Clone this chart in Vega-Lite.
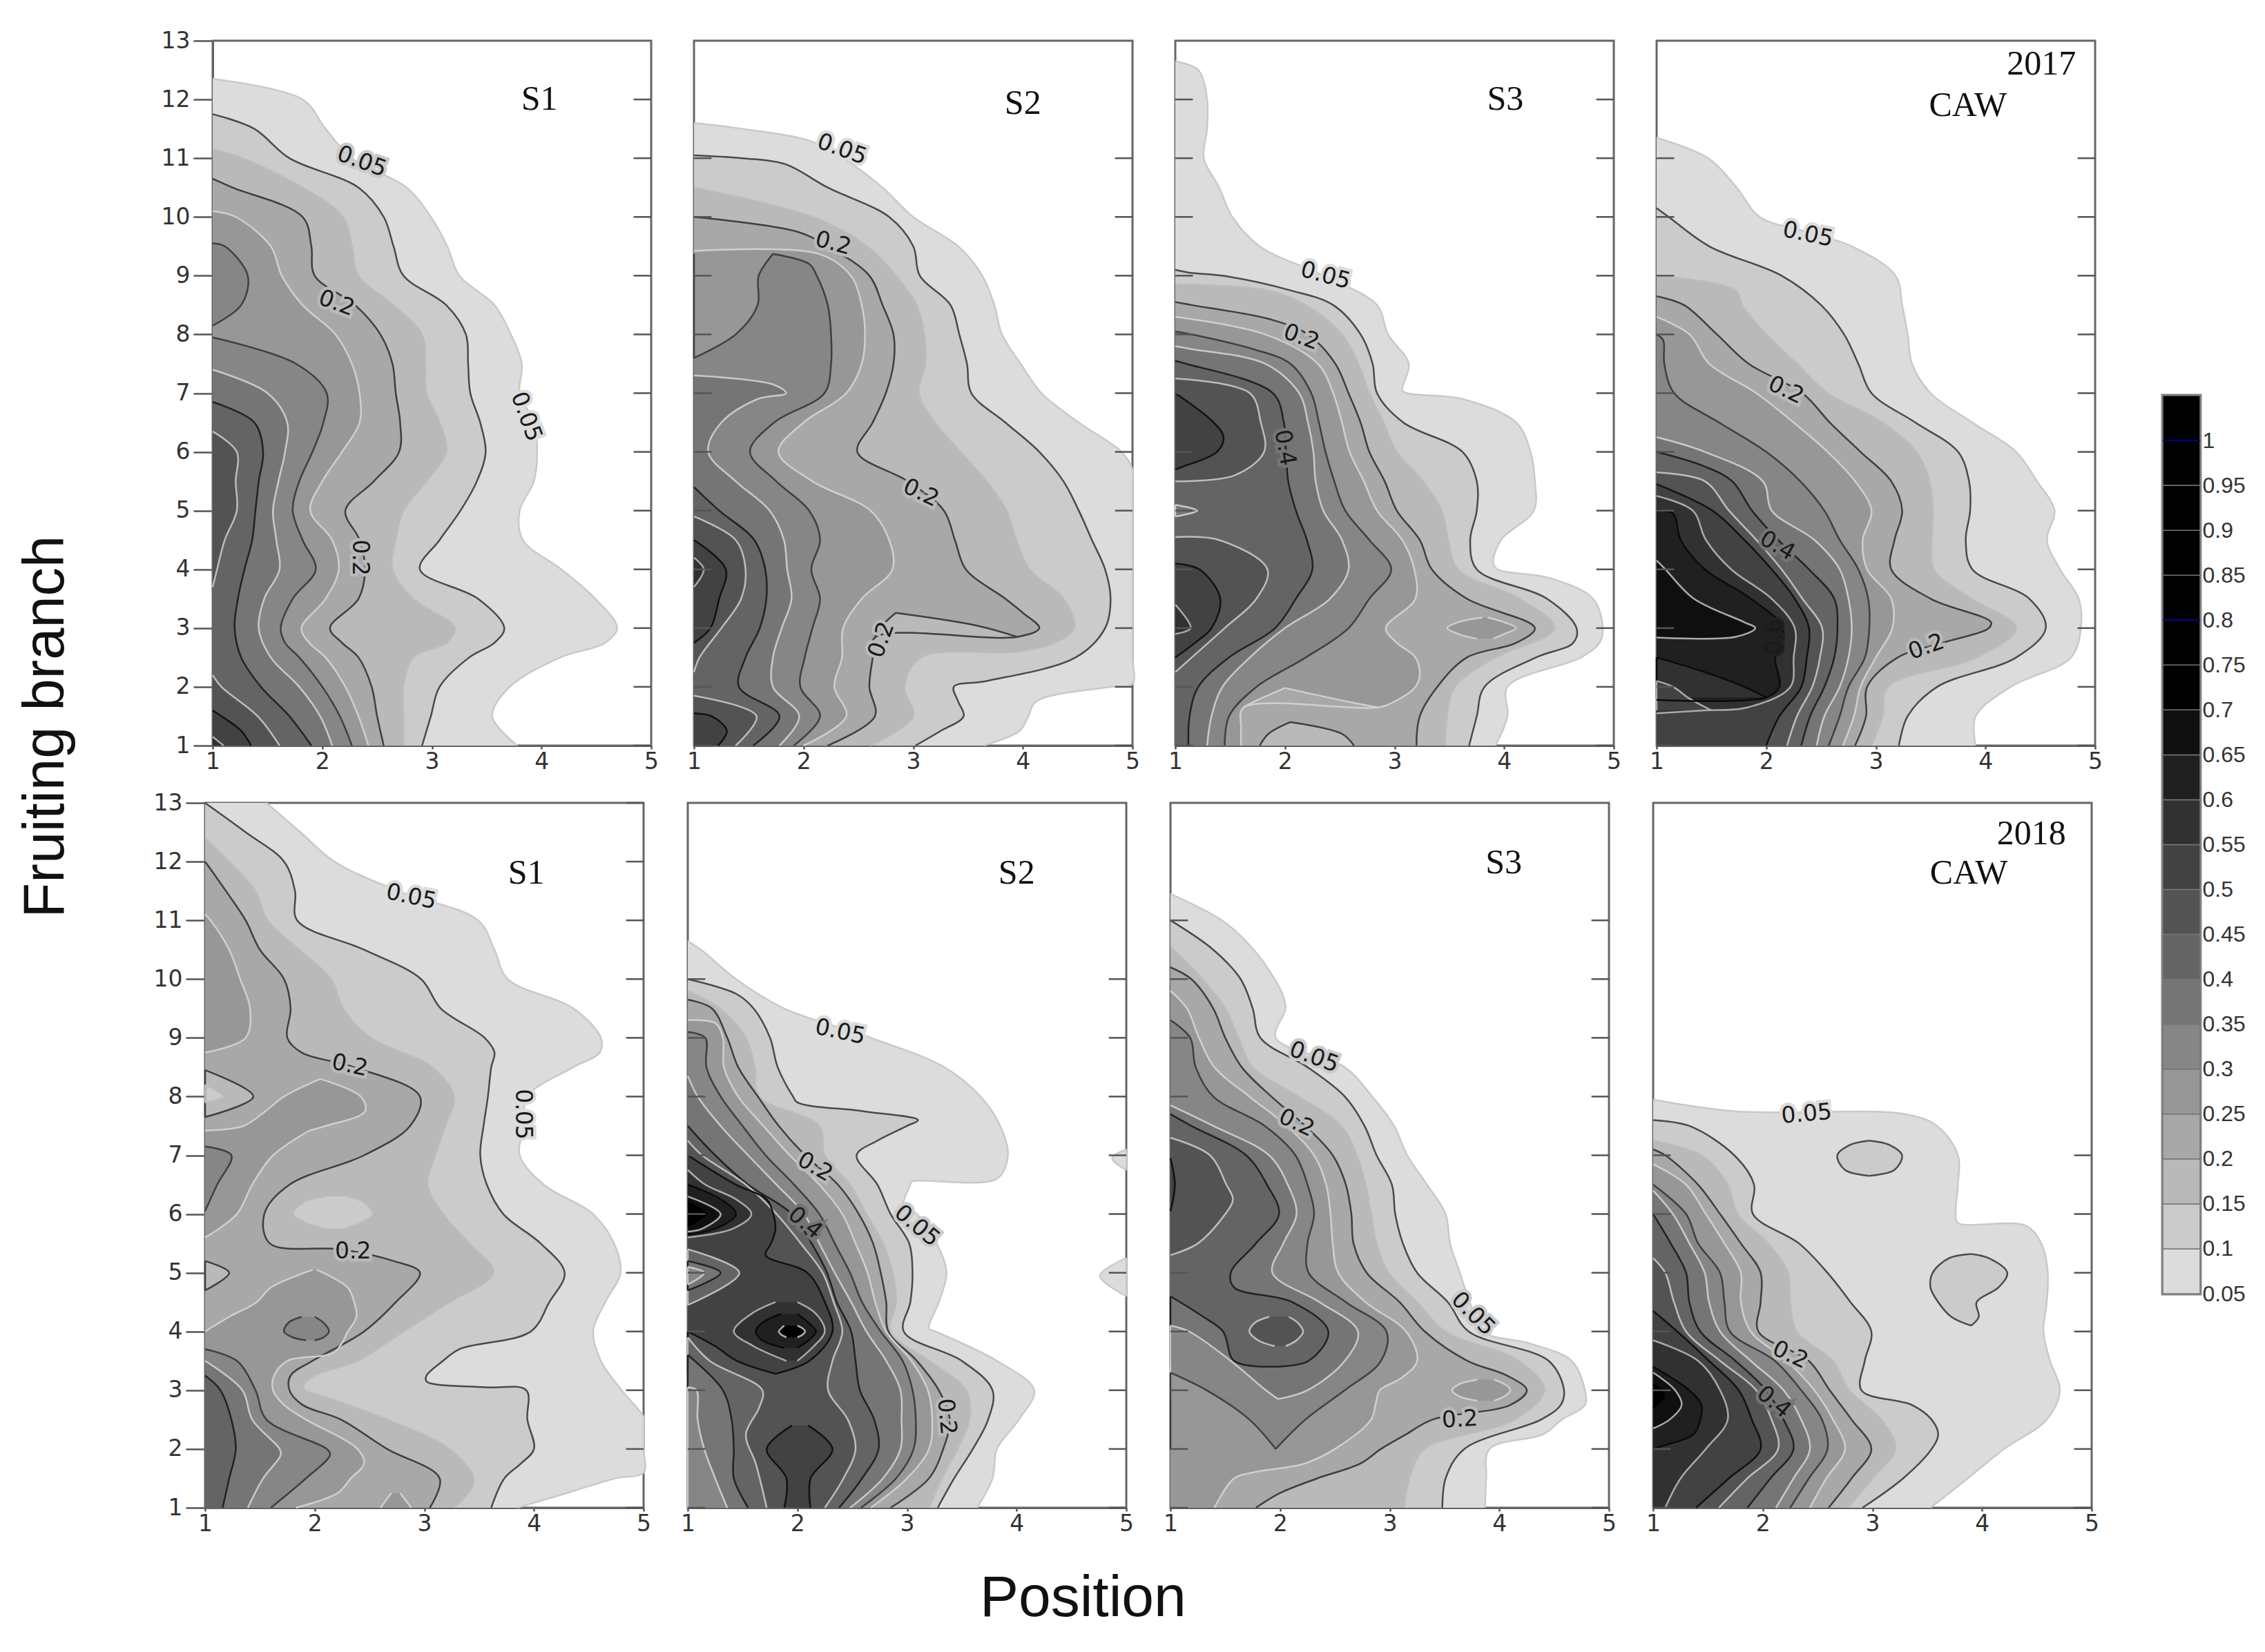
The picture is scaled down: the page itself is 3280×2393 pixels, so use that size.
{"$schema":"https://vega.github.io/schema/vega-lite/v6.json","padding":{"left":0,"top":43,"right":0,"bottom":0},"background":"white","config":{"mark":{"invalid":"filter"},"view":{"stroke":"#666","strokeWidth":3},"area":{"orient":"horizontal","interpolate":"catmull-rom","clip":true,"invalid":"filter"},"line":{"interpolate":"catmull-rom","clip":true,"strokeWidth":2.5,"invalid":"filter"},"axis":{"grid":false,"labelFont":"DejaVu Sans","labelFontSize":33,"labelColor":"#333","domainColor":"#555","domainWidth":3,"tickColor":"#555","tickWidth":2.5,"title":null,"labelFlush":false}},
"datasets":{"m":[
{"p":"a","y":13},{"p":"a","y":12.35,"a":1},{"p":"a","y":12,"a":1.82},{"p":"a","y":11.75,"b":1},{"p":"a","y":11.5,"a":2.03,"b":1.38},{"p":"a","y":11.15,"c":1},{"p":"a","y":11,"a":2.27,"b":1.7,"c":1.27},{"p":"a","y":10.65,"d":1},{"p":"a","y":10.5,"a":2.77,"b":2.33,"c":1.82,"d":1.18},{"p":"a","y":10.1,"e":1},{"p":"a","y":10,"a":2.99,"b":2.56,"c":2.19,"d":1.82,"e":1.21},{"p":"a","y":9.55,"f":1},{"p":"a","y":9.5,"a":3.14,"b":2.65,"c":2.27,"d":1.9,"e":1.53,"f":1.11},{"p":"a","y":9,"a":3.25,"b":2.74,"c":2.33,"d":1.93,"e":1.63,"f":1.32},{"p":"a","y":8.5,"a":3.57,"b":3.13,"c":2.65,"d":2.3,"e":1.82,"f":1.26},{"p":"a","y":8.15,"f":1},{"p":"a","y":8,"a":3.72,"b":3.31,"c":2.91,"d":2.53,"e":2.12},{"p":"a","y":7.95,"f2":1},{"p":"a","y":7.5,"a":3.82,"b":3.33,"c":2.94,"d":2.64,"e":2.27,"f2":1.76},{"p":"a","y":7.4,"g":1},{"p":"a","y":7,"a":3.8,"b":3.35,"c":2.95,"d":2.67,"e":2.34,"f2":2.04,"g":1.5},{"p":"a","y":6.85,"h":1},{"p":"a","y":6.5,"a":3.93,"b":3.44,"c":3.07,"d":2.71,"e":2.34,"f2":2.01,"g":1.68,"h":1.38},{"p":"a","y":6.35,"i":1},{"p":"a","y":6,"a":3.96,"b":3.49,"c":3.13,"d":2.7,"e":2.18,"f2":1.91,"g":1.66,"h":1.46,"i":1.22},{"p":"a","y":5.5,"a":3.93,"b":3.41,"c":2.95,"d":2.47,"e":2,"f2":1.79,"g":1.6,"h":1.42,"i":1.21},{"p":"a","y":5,"a":3.8,"b":3.26,"c":2.74,"d":2.21,"e":1.89,"f2":1.73,"g":1.55,"h":1.39,"i":1.22},{"p":"a","y":4.5,"a":3.83,"b":3.07,"c":2.67,"d":2.34,"e":2.09,"f2":1.82,"g":1.58,"h":1.36,"i":1.11},{"p":"a","y":4,"a":4.18,"b":2.89,"c":2.64,"d":2.39,"e":2.15,"f2":1.94,"g":1.61,"h":1.29,"i":1.04},{"p":"a","y":3.7,"i":1},{"p":"a","y":3.5,"a":4.49,"b":3.42,"c":2.83,"d":2.33,"e":2.03,"f2":1.73,"g":1.47,"h":1.23},{"p":"a","y":3,"a":4.69,"b":3.66,"c":3.21,"d":2.07,"e":1.81,"f2":1.62,"g":1.42,"h":1.2},{"p":"a","y":2.75,"a":4.58,"b":3.57,"c":3.13,"d":2.18,"e":1.88,"f2":1.66},{"p":"a","y":2.5,"a":4.17,"b":3.34,"c":2.83,"d":2.33,"e":2.03,"f2":1.79,"g":1.53,"h":1.26},{"p":"a","y":2.2,"i2":1},{"p":"a","y":2,"a":3.71,"b":3.07,"c":2.74,"d":2.45,"e":2.21,"f2":2,"g":1.79,"h":1.44,"i2":1.08},{"p":"a","y":1.6,"j":1},{"p":"a","y":1.5,"a":3.55,"b":2.99,"c":2.74,"d":2.5,"e":2.33,"f2":2.16,"g":1.98,"h":1.7,"i2":1.41,"j":1.08},{"p":"a","y":1.25,"j":1.26},{"p":"a","y":1.15,"k":1},{"p":"a","y":1,"a":3.78,"b":2.91,"c":2.74,"d":2.56,"e":2.42,"f2":2.27,"g":2.09,"h":1.9,"i2":1.61,"j":1.35,"k":1.1},
{"p":"b","y":13},{"p":"b","y":12},{"p":"b","y":11.6,"a":1},{"p":"b","y":11.5,"a":1.44},{"p":"b","y":11.3,"a":2.05},{"p":"b","y":11.05,"b":1},{"p":"b","y":11,"a":2.36,"b":1.44},{"p":"b","y":10.9,"b":1.83},{"p":"b","y":10.5,"a":2.72,"b":2.22,"c":1},{"p":"b","y":10,"a":3,"b":2.78,"c":2.08,"d":1},{"p":"b","y":9.75,"d":1.94},{"p":"b","y":9.5,"a":3.41,"b":3,"c":2.58,"d":2.22},{"p":"b","y":9.42,"e":1},{"p":"b","y":9.37,"e":2.14,"f":1.72},{"p":"b","y":9.2,"f":2.05},{"p":"b","y":9,"a":3.63,"b":3.06,"c":2.84,"d":2.6,"e":2.43,"f":2.12},{"p":"b","y":8.5,"a":3.74,"b":3.34,"c":3.03,"d":2.72,"e":2.53,"f":2.22},{"p":"b","y":8,"a":3.81,"b":3.42,"c":3.1,"d":2.82,"e":2.56,"f":2.25},{"p":"b","y":7.5,"a":3.98,"b":3.49,"c":3.11,"d":2.82,"e":2.53,"f":2.25},{"p":"b","y":7.3,"g":1},{"p":"b","y":7.15,"g":1.72},{"p":"b","y":7,"a":4.17,"b":3.53,"c":3.05,"d":2.75,"e":2.39,"f":2.19,"g":1.84},{"p":"b","y":6.9,"g":1.58},{"p":"b","y":6.5,"a":4.51,"b":3.84,"c":3.2,"d":2.63,"e":2,"f":1.73,"g":1.25},{"p":"b","y":6,"a":4.9,"b":4.15,"c":3.43,"d":2.49,"e":1.77,"f":1.51,"g":1.13},{"p":"b","y":5.7,"a":5},{"p":"b","y":5.5,"a":5,"b":4.37,"c":3.67,"d":2.95,"e":2.08,"f":1.75,"g":1.38},{"p":"b","y":5.4,"h":1},{"p":"b","y":5,"a":5,"b":4.51,"c":3.85,"d":3.28,"e":2.61,"f":2.05,"g":1.69,"h":1.23},{"p":"b","y":4.9,"i":1},{"p":"b","y":4.5,"a":5,"b":4.63,"c":3.94,"d":3.38,"e":2.78,"f":2.15,"g":1.82,"h":1.55,"i":1.38,"j":1},{"p":"b","y":4.2,"k":1},{"p":"b","y":4,"a":5,"b":4.75,"c":4.06,"d":3.48,"e":2.81,"f":2.07,"g":1.85,"h":1.65,"i":1.47,"j":1.29,"k":1.09},{"p":"b","y":3.7,"k":1},{"p":"b","y":3.5,"a":5,"b":4.8,"c":4.37,"d":3.84,"e":2.53,"f":2.15,"g":1.89,"h":1.66,"i":1.43,"j":1.23},{"p":"b","y":3.26,"d":4},{"p":"b","y":3,"a":5,"b":4.75,"c":4.47,"d":4.15,"e":2.36,"f":2.08,"g":1.8,"h":1.6,"i":1.25,"j":1.15},{"p":"b","y":2.85,"d":3.95},{"p":"b","y":2.84,"d":2.65},{"p":"b","y":2.75,"c":4.29,"j":1},{"p":"b","y":2.6,"c":3.95},{"p":"b","y":2.5,"a":5,"b":4.48,"c":3.07,"d":2.63,"e":2.35,"f":2.01,"g":1.72,"h":1.47,"i":1.05},{"p":"b","y":2.25,"i":1},{"p":"b","y":2.1,"b":3.67},{"p":"b","y":2.05,"a":5},{"p":"b","y":2,"a":4.8,"b":3.37,"c":2.92,"d":2.6,"e":2.28,"f":1.97,"g":1.72,"h":1.41},{"p":"b","y":1.85,"i2":1},{"p":"b","y":1.75,"a":4.12,"b":3.41},{"p":"b","y":1.55,"j2":1},{"p":"b","y":1.5,"a":4.05,"b":3.46,"c":3,"d":2.65,"e":2.39,"f":2.15,"g":1.96,"h":1.78,"i2":1.57,"j2":1.16},{"p":"b","y":1.25,"a":3.97,"b":3.25,"j2":1.3},{"p":"b","y":1,"a":3.64,"b":3.02,"c":2.61,"d":2.22,"e":2,"f":1.91,"g":1.78,"h":1.54,"i2":1.38,"j2":1.22},
{"p":"c","y":13},{"p":"c","y":12.65,"a":1},{"p":"c","y":12.5,"a":1.21},{"p":"c","y":12,"a":1.29},{"p":"c","y":11.5,"a":1.29},{"p":"c","y":11,"a":1.26},{"p":"c","y":10.5,"a":1.4},{"p":"c","y":10,"a":1.52},{"p":"c","y":9.5,"a":1.77},{"p":"c","y":9.1,"b":1},{"p":"c","y":9.05,"b":1.13},{"p":"c","y":9,"a":2.35,"b":1.43},{"p":"c","y":8.85,"c":1},{"p":"c","y":8.75,"b":2.05,"c":1.85},{"p":"c","y":8.55,"d":1},{"p":"c","y":8.5,"a":2.84,"b":2.44,"c":2.19,"d":1.15},{"p":"c","y":8.3,"e":1},{"p":"c","y":8.25,"d":1.88},{"p":"c","y":8.05,"f":1},{"p":"c","y":8,"a":2.94,"b":2.69,"c":2.52,"d":2.21,"e":1.82,"f":1.15},{"p":"c","y":7.8,"g":1},{"p":"c","y":7.75,"f":1.71,"g":1.15},{"p":"c","y":7.55,"h":1},{"p":"c","y":7.5,"a":3.13,"b":2.8,"c":2.67,"d":2.46,"e":2.3,"f":2.05,"g":1.82,"h":1.1},{"p":"c","y":7.25,"i":1},{"p":"c","y":7.05,"a":3.07},{"p":"c","y":7,"a":3.11,"b":2.84,"c":2.77,"d":2.58,"e":2.44,"f":2.24,"g":2.13,"h":1.89,"i":1.68,"j":1},{"p":"c","y":6.9,"a":3.62},{"p":"c","y":6.5,"a":4.11,"b":3.08,"c":2.9,"d":2.69,"e":2.52,"f":2.31,"g":2.21,"h":1.99,"i":1.78,"j":1.35},{"p":"c","y":6.25,"j":1.44},{"p":"c","y":6,"a":4.24,"b":3.62,"c":3.02,"d":2.77,"e":2.59,"f":2.37,"g":2.26,"h":2.01,"i":1.81,"j":1.38},{"p":"c","y":5.75,"j":1.07},{"p":"c","y":5.7,"j":1},{"p":"c","y":5.6,"i":1.54},{"p":"c","y":5.5,"a":4.28,"b":3.75,"c":3.26,"d":2.91,"e":2.72,"f":2.45,"g":2.28,"h":2.03,"i":1},{"p":"c","y":5,"a":4.27,"b":3.75,"c":3.43,"d":3.02,"e":2.84,"f":2.55,"g":2.35,"h":2.1},{"p":"c","y":4.55,"i2":1},{"p":"c","y":4.5,"a":3.97,"b":3.69,"c":3.49,"d":3.23,"e":3.07,"f":2.77,"g":2.52,"h":2.2,"i2":1.4},{"p":"c","y":4.1,"a":3.9,"j2":1},{"p":"c","y":4,"a":3.94,"b":3.75,"c":3.58,"d":3.34,"e":3.18,"f":2.97,"g":2.58,"h":2.25,"i2":1.84,"j2":1.22},{"p":"c","y":3.85,"a":4.42},{"p":"c","y":3.5,"a":4.81,"b":4.39,"c":4.14,"d":3.66,"e":3.19,"f":2.77,"g":2.41,"h":2.1,"i2":1.74,"j2":1.41},{"p":"c","y":3.4,"k":1},{"p":"c","y":3,"a":4.9,"b":4.66,"c":4.46,"d":4.28,"e":2.92,"f":2.58,"g":2,"h":1.91,"i2":1.45,"j2":1.33,"k":1.14},{"p":"c","y":2.9,"k":1},{"p":"c","y":2.75,"a":4.87,"b":4.63,"d":4.11,"e":3.02,"j2":1.18},{"p":"c","y":2.5,"a":4.7,"b":4.29,"c":3.92,"d":3.66,"e":3.19,"f":2.19,"g":1.68,"h":1.49,"i2":1.15,"j2":1},{"p":"c","y":2.25,"i2":1},{"p":"c","y":2.2,"e":3.23},{"p":"c","y":2,"a":4.03,"b":3.82,"c":3.55,"d":3.39,"e":3.19,"f":1.74,"g":1.43,"h":1.21},{"p":"c","y":1.75,"e":3},{"p":"c","y":1.65,"e":2.85},{"p":"c","y":1.64,"e":1.62},{"p":"c","y":1.5,"a":4.03,"b":3.75,"c":3.48,"d":3.23,"f":1.49,"g":1.33,"h":1.13},{"p":"c","y":1.3,"e":1.6},{"p":"c","y":1,"a":3.92,"b":3.68,"c":3.46,"d":3.2,"e":1.6,"f":1.45,"g":1.29,"h":1.12},
{"p":"d","y":13},{"p":"d","y":12},{"p":"d","y":11.35,"a":1},{"p":"d","y":11,"a":1.47},{"p":"d","y":10.5,"a":1.73},{"p":"d","y":10.15,"b":1},{"p":"d","y":10,"a":1.94,"b":1.11},{"p":"d","y":9.75,"a":2.36},{"p":"d","y":9.5,"a":2.78,"b":1.48},{"p":"d","y":9,"a":3.18,"b":2.14,"c":1},{"p":"d","y":8.75,"c":1.72},{"p":"d","y":8.65,"d":1},{"p":"d","y":8.5,"a":3.24,"b":2.5,"c":1.78,"d":1.25},{"p":"d","y":8.3,"e":1},{"p":"d","y":8,"a":3.29,"b":2.71,"c":2,"d":1.55,"e":1.3,"f":1},{"p":"d","y":7.9,"f":1.06},{"p":"d","y":7.5,"a":3.33,"b":2.84,"c":2.28,"d":1.84,"e":1.48,"f":1.07},{"p":"d","y":7,"a":3.5,"b":2.96,"c":2.56,"d":2.33,"e":1.91,"f":1.16},{"p":"d","y":6.5,"a":3.88,"b":3.36,"c":3.06,"d":2.58,"e":2.25,"f":1.57},{"p":"d","y":6.25,"g":1},{"p":"d","y":6,"a":4.28,"b":3.75,"c":3.37,"d":2.86,"e":2.56,"f":2,"g":1.44,"h":1},{"p":"d","y":5.75,"h":1.44},{"p":"d","y":5.65,"i":1},{"p":"d","y":5.5,"a":4.47,"b":3.85,"c":3.49,"d":3.14,"e":2.81,"f":2.31,"g":1.97,"h":1.69,"i":1.44},{"p":"d","y":5.45,"j":1},{"p":"d","y":5.25,"k":1},{"p":"d","y":5,"a":4.63,"b":3.86,"c":3.52,"d":3.24,"e":2.96,"f":2.53,"g":2.05,"h":1.87,"i":1.66,"j":1.51,"k":1.33,"l":1},{"p":"d","y":4.95,"l":1.15},{"p":"d","y":4.5,"a":4.56,"b":3.82,"c":3.51,"d":3.17,"e":2.88,"f":2.67,"g":2.44,"h":2.11,"i":1.91,"j":1.8,"k":1.45,"l":1.22},{"p":"d","y":4.15,"m":1},{"p":"d","y":4,"a":4.68,"b":3.88,"c":3.53,"d":3.14,"e":2.92,"f":2.84,"g":2.67,"h":2.39,"i":2.14,"j":2.05,"k":1.68,"l":1.44,"m":1.08},{"p":"d","y":3.5,"a":4.85,"b":4.4,"c":3.87,"d":3.5,"e":3.14,"f":2.93,"g":2.75,"h":2.62,"i":2.33,"j":2.26,"k":2.05,"l":1.86,"m":1.34},{"p":"d","y":3.1,"d":4.05,"m":1.8},{"p":"d","y":3,"a":4.87,"b":4.55,"c":4.28,"d":4.03,"e":3.15,"f":2.94,"g":2.78,"h":2.65,"i":2.51,"j":2.39,"k":2.26,"l":2.15,"m":1.9},{"p":"d","y":2.85,"m":1.72},{"p":"d","y":2.84,"m":1},{"p":"d","y":2.75,"d":3.61},{"p":"d","y":2.5,"a":4.78,"b":4.28,"c":3.92,"d":3.2,"e":3,"f":2.9,"g":2.75,"h":2.62,"i":2.49,"j":2.37,"k":2.25,"l":2.08},{"p":"d","y":2,"a":4.23,"b":3.56,"c":3.11,"d":2.92,"e":2.86,"f":2.75,"g":2.67,"h":2.53,"i":2.42,"j":2.32,"k":2.22,"l":2.12},{"p":"d","y":1.82,"l":2},{"p":"d","y":1.78,"l":1},{"p":"d","y":1.65,"k":1.83},{"p":"d","y":1.6,"k":1.44},{"p":"d","y":1.55,"k":1},{"p":"d","y":1.5,"a":3.91,"b":3.29,"c":3.06,"d":2.91,"e":2.8,"f":2.67,"g":2.53,"h":2.4,"i":2.28,"j":2.12},{"p":"d","y":1,"a":3.91,"b":3.21,"c":2.96,"d":2.81,"e":2.7,"f":2.57,"g":2.46,"h":2.32,"i":2.19,"j":2},
{"p":"e","y":13,"a":1.56,"b":1},{"p":"e","y":12.5,"a":1.87,"b":1.37},{"p":"e","y":12.4,"c":1},{"p":"e","y":12,"a":2.18,"b":1.72,"c":1.22,"d":1},{"p":"e","y":11.5,"a":2.76,"b":1.82,"c":1.46,"d":1.19},{"p":"e","y":11.1,"e":1},{"p":"e","y":11,"a":3.49,"b":1.84,"c":1.57,"d":1.37,"e":1.05},{"p":"e","y":10.5,"a":3.64,"b":2.45,"c":1.86,"d":1.5,"e":1.22},{"p":"e","y":10,"a":3.76,"b":2.97,"c":2.15,"d":1.72,"e":1.32},{"p":"e","y":9.5,"a":4.36,"b":3.15,"c":2.26,"d":1.78,"e":1.41},{"p":"e","y":9,"a":4.61,"b":3.55,"c":2.51,"d":1.75,"e":1.37},{"p":"e","y":8.75,"a":4.6,"b":3.64,"d":1.88,"e":1},{"p":"e","y":8.5,"a":4.36,"b":3.61,"c":3.07,"d":2.36},{"p":"e","y":8,"a":3.94,"b":3.58,"c":3.27,"d":2.96},{"p":"e","y":7.5,"a":3.91,"b":3.54,"c":3.19,"d":2.87},{"p":"e","y":7.42,"e2":1.95},{"p":"e","y":7.15,"f":1},{"p":"e","y":7,"a":3.87,"b":3.51,"c":3.1,"d":2.45,"e2":1.62,"f":1.24},{"p":"e","y":6.5,"a":4.09,"b":3.57,"c":3.03,"d":1.77,"e2":1.43,"f":1.11},{"p":"e","y":6.05,"f":1},{"p":"e","y":6,"a":4.54,"b":3.72,"c":3.17,"d":1.54,"e2":1.29},{"p":"e","y":5.6,"e2":1},{"p":"e","y":5.5,"a":4.73,"b":4.06,"c":3.41,"d":1.59},{"p":"e","y":5.4,"d":2.24},{"p":"e","y":5.2,"d":2.72},{"p":"e","y":5,"a":4.79,"b":4.28,"c":3.63,"d":2.96},{"p":"e","y":4.5,"a":4.65,"b":4.14,"c":3.23,"d":2.74},{"p":"e","y":4,"a":4.54,"b":3.97,"c":2.81,"d":2.45,"e3":2.3},{"p":"e","y":3.7,"b":3.32,"f2":1},{"p":"e","y":3.65,"e3":2.18},{"p":"e","y":3.5,"a":4.61,"b":3.17,"c":2.39,"d":1.98,"e3":1.75,"f2":1.29,"g":1},{"p":"e","y":3.25,"b":3.02,"c":2,"d":1.78,"e3":1.63,"h":1},{"p":"e","y":3.15,"b":3.02},{"p":"e","y":3.1,"c":1.9},{"p":"e","y":3.05,"b":3.55},{"p":"e","y":3,"a":4.8,"b":3.93,"c":1.91,"d":1.77,"e3":1.62,"f2":1.46,"g":1.34,"h":1.14},{"p":"e","y":2.9,"c":2.07},{"p":"e","y":2.75,"d":1.89,"e3":1.72},{"p":"e","y":2.55,"a":5},{"p":"e","y":2.5,"a":5,"b":3.94,"c":2.66,"d":2.24,"e3":1.92,"f2":1.56,"g":1.43,"h":1.24},{"p":"e","y":2,"a":5,"b":4,"c":3.23,"d":2.66,"e3":2.39,"f2":2.11,"g":1.68,"h":1.28},{"p":"e","y":1.9,"f2":2.14,"g":1.69},{"p":"e","y":1.75,"b":3.88,"e3":2.45},{"p":"e","y":1.6,"a":5},{"p":"e","y":1.5,"a":4.74,"b":3.73,"c":3.45,"d":3.14,"e3":2.33,"f2":1.92,"g":1.53,"h":1.22},{"p":"e","y":1.25,"a":4.3,"c":3.4,"e3":2.21},{"p":"e","y":1,"a":3.85,"b":3.61,"c":3.27,"d":3.05,"e3":1.83,"f2":1.6,"g":1.39,"h":1.16},
{"p":"f","y":13},{"p":"f","y":12},{"p":"f","y":11},{"p":"f","y":10.65,"a":1},{"p":"f","y":10.5,"a":1.12},{"p":"f","y":10,"a":1.44,"b":1},{"p":"f","y":9.8,"c":1},{"p":"f","y":9.75,"b":1.44},{"p":"f","y":9.65,"d":1},{"p":"f","y":9.5,"a":1.88,"b":1.6,"c":1.29,"d":1.22},{"p":"f","y":9.3,"e":1},{"p":"f","y":9.25,"e":1.25},{"p":"f","y":9.1,"f":1},{"p":"f","y":9,"a":2.67,"b":1.75,"c":1.53,"d":1.36,"e":1.32,"f":1.16},{"p":"f","y":8.5,"a":3.34,"b":1.82,"c":1.61,"d":1.46,"e":1.33,"f":1.17},{"p":"f","y":8.35,"g":1},{"p":"f","y":8,"a":3.67,"b":1.96,"c":1.65,"d":1.64,"e":1.46,"f":1.3,"g":1.09},{"p":"f","y":7.9,"b":2},{"p":"f","y":7.75,"b":2.6},{"p":"f","y":7.6,"b":3.1},{"p":"f","y":7.5,"a":3.85,"b":3,"c":2.2,"d":1.83,"e":1.69,"f":1.5,"g":1.3,"h":1},{"p":"f","y":7.25,"b":2.73,"i":1},{"p":"f","y":7,"a":3.92,"b":2.54,"c":2.25,"d":2.07,"e":1.93,"f":1.71,"g":1.55,"h":1.25,"i":1.13,"j":1},{"p":"f","y":6.75,"k":1},{"p":"f","y":6.6,"a":3.82},{"p":"f","y":6.55,"a":3.04},{"p":"f","y":6.5,"a":3.03,"b":2.73,"c":2.48,"d":2.37,"e":2.2,"f":1.97,"g":1.81,"h":1.55,"i":1.53,"j":1.44,"k":1.16,"l":1},{"p":"f","y":6.3,"m":1},{"p":"f","y":6.25,"j":1.72,"k":1.44,"l":1.3},{"p":"f","y":6.2,"n":1},{"p":"f","y":6.15,"a":2.97},{"p":"f","y":6,"a":3.09,"b":2.85,"c":2.63,"d":2.56,"e":2.41,"f":2.2,"g":2.06,"h":1.95,"i":1.81,"j":1.78,"k":1.58,"l":1.44,"m":1.3,"n":1.16},{"p":"f","y":5.8,"n":1},{"p":"f","y":5.75,"j":1.8,"k":1.41,"l":1.25,"m":1.13},{"p":"f","y":5.7,"m":1},{"p":"f","y":5.65,"l":1},{"p":"f","y":5.6,"k":1},{"p":"f","y":5.5,"a":3.27,"b":3.02,"c":2.78,"d":2.69,"e":2.53,"f":2.34,"g":2.2,"h":2.13,"i":2.03,"j":1.76},{"p":"f","y":5.3,"j":1.71},{"p":"f","y":5,"a":3.36,"b":3.05,"c":2.87,"d":2.76,"e":2.64,"f":2.48,"g":2.34,"h":2.27,"i":2.23,"j":2.09},{"p":"f","y":4.5,"a":3.29,"b":3.03,"c":2.9,"d":2.81,"e":2.71,"f":2.59,"g":2.49,"h":2.36,"i":2.33,"j":2.25},{"p":"f","y":4.05,"a":3.2},{"p":"f","y":4,"a":3.26,"b":2.97,"c":2.85,"d":2.83,"e":2.81,"f":2.76,"g":2.63,"h":2.49,"i":2.41,"j":2.32},{"p":"f","y":3.5,"a":3.82,"b":3.5,"c":3.2,"d":3.09,"e":3.04,"f":2.96,"g":2.81,"h":2.53,"i":2.32,"j":2.11},{"p":"f","y":3.28,"j":1.8},{"p":"f","y":3,"a":4.16,"b":3.78,"c":3.54,"d":3.29,"e":3.19,"f":3.05,"g":2.94,"h":2.57,"i":2.28},{"p":"f","y":2.5,"a":4.02,"b":3.74,"c":3.57,"d":3.39,"e":3.23,"f":3.08,"g":2.95,"h":2.7,"i":2.46},{"p":"f","y":2,"a":3.82,"b":3.6,"c":3.46,"d":3.33,"e":3.2,"f":3.06,"g":2.94,"h":2.74,"i":2.53},{"p":"f","y":1.5,"a":3.78,"b":3.43,"c":3.32,"d":3.2,"e":3,"f":2.9,"g":2.78,"h":2.59,"i":2.42},{"p":"f","y":1,"a":3.64,"b":3.28,"c":3.2,"d":2.85,"e":2.67,"f":2.58,"g":2.48,"h":2.38,"i":2.25},
{"p":"g","y":13},{"p":"g","y":12},{"p":"g","y":11.45,"a":1},{"p":"g","y":11,"a":1.47,"b":1},{"p":"g","y":10.55,"c":1},{"p":"g","y":10.5,"a":1.76,"b":1.39},{"p":"g","y":10.2,"d":1},{"p":"g","y":10,"a":1.95,"b":1.64,"c":1.29,"d":1.19},{"p":"g","y":9.8,"e":1},{"p":"g","y":9.75,"a":2.02},{"p":"g","y":9.5,"a":2.05,"b":1.75,"c":1.5,"d":1.39,"e":1.15},{"p":"g","y":9.3,"f":1},{"p":"g","y":9,"a":1.96,"b":1.82,"c":1.62,"d":1.5,"e":1.26,"f":1.18},{"p":"g","y":8.5,"a":2.59,"b":2.25,"c":1.75,"d":1.65,"e":1.4,"f":1.23},{"p":"g","y":8,"a":2.84,"b":2.59,"c":2.17,"d":1.92,"e":1.72,"f":1.39},{"p":"g","y":7.85,"g":1},{"p":"g","y":7.7,"h":1},{"p":"g","y":7.5,"a":3.04,"b":2.77,"c":2.56,"d":2.23,"e":2.06,"f":1.86,"g":1.39,"h":1.19},{"p":"g","y":7.3,"i":1},{"p":"g","y":7,"a":3.16,"b":2.88,"c":2.7,"d":2.48,"e":2.31,"f":2.14,"g":1.9,"h":1.69,"i":1.36},{"p":"g","y":6.95,"j":1},{"p":"g","y":6.5,"a":3.34,"b":3.02,"c":2.78,"d":2.6,"e":2.42,"f":2.25,"g":2.07,"h":1.88,"i":1.51,"j":1.04},{"p":"g","y":6.25,"i":1.57},{"p":"g","y":6.05,"j":1},{"p":"g","y":6,"a":3.51,"b":3.05,"c":2.83,"d":2.65,"e":2.46,"f":2.31,"g":2.15,"h":1.99,"i":1.5},{"p":"g","y":5.5,"a":3.55,"b":3.12,"c":2.88,"d":2.67,"e":2.48,"f":2.25,"g":2.03,"h":1.78,"i":1.25},{"p":"g","y":5.3,"i":1},{"p":"g","y":5,"a":3.64,"b":3.25,"c":2.99,"d":2.79,"e":2.53,"f":2.26,"g":1.93,"h":1.55},{"p":"g","y":4.75,"h":1.58},{"p":"g","y":4.5,"a":3.73,"b":3.53,"c":3.25,"d":3.09,"e":2.78,"f":2.6,"g":2.36,"h":2.11},{"p":"g","y":4,"a":3.85,"b":3.72,"c":3.51,"d":3.32,"e":3.15,"f":2.97,"g":2.71,"h":2.44},{"p":"g","y":3.8,"a":4.27},{"p":"g","y":3.5,"a":4.66,"b":4.45,"c":4.18,"d":3.71,"e":3.25,"f":2.92,"g":2.59,"h":2.26},{"p":"g","y":3.4,"h":1.9},{"p":"g","y":3.25,"d":4.07},{"p":"g","y":3.2,"e":3.1},{"p":"g","y":3,"a":4.78,"b":4.59,"c":4.41,"d":4.25,"e":2.91,"f":2.59,"g":2.25},{"p":"g","y":2.85,"g":1.98},{"p":"g","y":2.75,"a":4.78,"b":4.56,"d":4.1,"e":2.87},{"p":"g","y":2.5,"a":4.57,"b":4.38,"c":4.14,"d":3.39,"e":2.83,"f":2.23},{"p":"g","y":2.25,"a":4.4,"d":3.15},{"p":"g","y":2,"a":3.91,"b":3.68,"c":3.32,"d":2.92,"e":2.5,"f":1.96},{"p":"g","y":1.75,"d":2.73,"e":2.22},{"p":"g","y":1.6,"e":1.75},{"p":"g","y":1.5,"a":3.88,"b":3.51,"c":3.18,"d":2.34,"e":1.58},{"p":"g","y":1.25,"d":2},{"p":"g","y":1,"a":3.87,"b":3.48,"c":3.13,"d":1.78,"e":1.4},
{"p":"h","y":13},{"p":"h","y":12},{"p":"h","y":11},{"p":"h","y":10},{"p":"h","y":9},{"p":"h","y":8},{"p":"h","y":7.95,"a":1},{"p":"h","y":7.75,"a":1.75},{"p":"h","y":7.7,"a":3.3},{"p":"h","y":7.6,"b":1},{"p":"h","y":7.5,"a":3.59,"b":1.33},{"p":"h","y":7.25,"c":1},{"p":"h","y":7.1,"d":1},{"p":"h","y":7,"a":3.78,"b":1.74,"c":1.44,"d":1.11},{"p":"h","y":6.85,"e":1},{"p":"h","y":6.5,"a":3.78,"b":1.92,"c":1.68,"d":1.41,"e":1.3,"f":1},{"p":"h","y":6.4,"g":1},{"p":"h","y":6,"a":3.76,"b":1.91,"c":1.77,"d":1.61,"e":1.48,"f":1.3,"g":1.18,"h":1},{"p":"h","y":5.85,"a":3.78},{"p":"h","y":5.8,"a":4.4},{"p":"h","y":5.5,"a":4.54,"b":2.33,"c":2.05,"d":1.8,"e":1.65,"f":1.41,"g":1.33,"h":1.16},{"p":"h","y":5.25,"i":1},{"p":"h","y":5,"a":4.6,"b":2.59,"c":2.23,"d":1.98,"e":1.8,"f":1.61,"g":1.47,"h":1.3,"i":1.11},{"p":"h","y":4.5,"a":4.59,"b":2.8,"c":2.25,"d":1.98,"e":1.8,"f":1.65,"g":1.51,"h":1.33,"i":1.19},{"p":"h","y":4.35,"j":1},{"p":"h","y":4,"a":4.56,"b":2.99,"c":2.31,"d":1.96,"e":1.89,"f":1.7,"g":1.61,"h":1.43,"i":1.3,"j":1.22},{"p":"h","y":3.85,"k":1},{"p":"h","y":3.5,"a":4.62,"b":2.93,"c":2.64,"d":2.42,"e":2.22,"f":2.11,"g":1.89,"h":1.75,"i":1.61,"j":1.51,"k":1.41},{"p":"h","y":3.4,"l":1},{"p":"h","y":3.3,"m":1},{"p":"h","y":3.1,"n":1},{"p":"h","y":3,"a":4.71,"b":2.9,"c":2.79,"d":2.61,"e":2.47,"f":2.35,"g":2.19,"h":2.03,"i":1.94,"j":1.78,"k":1.61,"l":1.33,"m":1.2,"n":1.08},{"p":"h","y":2.9,"n":1.1},{"p":"h","y":2.75,"b":3.36,"l":1.44,"m":1.26},{"p":"h","y":2.7,"n":1},{"p":"h","y":2.5,"a":4.59,"b":3.54,"c":3.08,"d":2.81,"e":2.64,"f":2.54,"g":2.35,"h":2.19,"i":2.08,"j":1.9,"k":1.68,"l":1.43,"m":1.15},{"p":"h","y":2.35,"m":1},{"p":"h","y":2.25,"b":3.6,"l":1.37},{"p":"h","y":2.05,"l":1.08},{"p":"h","y":2,"a":4.2,"b":3.54,"c":3.21,"d":2.99,"e":2.75,"f":2.59,"g":2.43,"h":2.28,"i":2.14,"j":1.98,"k":1.48,"l":1},{"p":"h","y":1.5,"a":3.87,"b":3.28,"c":3,"d":2.81,"e":2.58,"f":2.42,"g":2.28,"h":2.07,"i":1.86,"j":1.69,"k":1.25},{"p":"h","y":1,"a":3.53,"b":2.91,"c":2.78,"d":2.6,"e":2.43,"f":2.25,"g":2.12,"h":1.86,"i":1.6,"j":1.39,"k":1.11},
{"p":"b","id":"b1","fill":"c","line":"d","y":3.26,"x0":2.84,"x1":2.84},{"p":"b","id":"b1","fill":"c","line":"d","y":3.05,"x0":2.72,"x1":3.56},{"p":"b","id":"b1","fill":"c","line":"d","y":2.85,"x0":2.65,"x1":3.95},
{"p":"b","id":"b2","fill":"e","line":"f","y":9.37,"x0":1,"x1":1.72},{"p":"b","id":"b2","fill":"e","line":"f","y":9,"x0":1,"x1":1.59},{"p":"b","id":"b2","fill":"e","line":"f","y":8.5,"x0":1,"x1":1.58},{"p":"b","id":"b2","fill":"e","line":"f","y":8,"x0":1,"x1":1.38},{"p":"b","id":"b2","fill":"e","line":"f","y":7.6,"x0":1,"x1":1},
{"p":"c","id":"c1","fill":"d","line":"e","y":1.98,"x0":2,"x1":2},{"p":"c","id":"c1","fill":"d","line":"e","y":1.75,"x0":1.72,"x1":2.57},{"p":"c","id":"c1","fill":"d","line":"e","y":1.65,"x0":1.62,"x1":2.85},
{"p":"c","id":"c2","fill":"g","line":"g","y":5.1,"x0":1,"x1":1},{"p":"c","id":"c2","fill":"g","line":"g","y":5,"x0":1,"x1":1.2},{"p":"c","id":"c2","fill":"g","line":"g","y":4.9,"x0":1,"x1":1},
{"p":"c","id":"c3","fill":"e","line":"e","y":3.18,"x0":3.8,"x1":3.85},{"p":"c","id":"c3","fill":"e","line":"e","y":3.1,"x0":3.58,"x1":4},{"p":"c","id":"c3","fill":"e","line":"e","y":3,"x0":3.48,"x1":4.11},{"p":"c","id":"c3","fill":"e","line":"e","y":2.9,"x0":3.58,"x1":4},{"p":"c","id":"c3","fill":"e","line":"e","y":2.82,"x0":3.75,"x1":3.9},
{"p":"c","id":"c4","fill":"c","line":"d","y":1.4,"x0":2.05,"x1":2.05},{"p":"c","id":"c4","fill":"c","line":"d","y":1.2,"x0":1.85,"x1":2.52},{"p":"c","id":"c4","fill":"c","line":"d","y":1,"x0":1.77,"x1":2.63},
{"p":"d","id":"d1","fill":"k","line":"l","y":2.5,"x0":1,"x1":1},{"p":"d","id":"d1","fill":"k","line":"l","y":2.25,"x0":1,"x1":1.44},{"p":"d","id":"d1","fill":"k","line":"l","y":2,"x0":1,"x1":1.8},{"p":"d","id":"d1","fill":"k","line":"l","y":1.82,"x0":1,"x1":2},
{"p":"d","id":"d2","fill":"j","line":"k","y":2.1,"x0":1,"x1":1},{"p":"d","id":"d2","fill":"j","line":"k","y":2,"x0":1,"x1":1.15},{"p":"d","id":"d2","fill":"j","line":"k","y":1.8,"x0":1,"x1":1.3},{"p":"d","id":"d2","fill":"j","line":"k","y":1.6,"x0":1,"x1":1.5},
{"p":"e","id":"e1","fill":"e","line":"e","y":8.3,"x0":2.05,"x1":2.05},{"p":"e","id":"e1","fill":"e","line":"e","y":8,"x0":1.72,"x1":2.42},{"p":"e","id":"e1","fill":"e","line":"e","y":7.75,"x0":1.55,"x1":2.46},{"p":"e","id":"e1","fill":"e","line":"e","y":7.5,"x0":1.35,"x1":2.1},{"p":"e","id":"e1","fill":"e","line":"e","y":7.42,"x0":1,"x1":1.95},
{"p":"e","id":"e2","fill":"e","line":"e","y":5.05,"x0":1.98,"x1":2.02},{"p":"e","id":"e2","fill":"e","line":"e","y":4.75,"x0":1.6,"x1":2.3},{"p":"e","id":"e2","fill":"e","line":"e","y":4.5,"x0":1.47,"x1":2.36},{"p":"e","id":"e2","fill":"e","line":"e","y":4.25,"x0":1.22,"x1":2.38},{"p":"e","id":"e2","fill":"e","line":"e","y":4,"x0":1,"x1":2.3},
{"p":"e","id":"e3","fill":"c","line":"d","y":8.45,"x0":1,"x1":1},{"p":"e","id":"e3","fill":"c","line":"d","y":8,"x0":1,"x1":1.44},{"p":"e","id":"e3","fill":"c","line":"d","y":7.65,"x0":1,"x1":1},
{"p":"e","id":"e4","fill":"b","line":"c","y":8.2,"x0":1,"x1":1},{"p":"e","id":"e4","fill":"b","line":"c","y":8,"x0":1,"x1":1.17},{"p":"e","id":"e4","fill":"b","line":"c","y":7.9,"x0":1,"x1":1},
{"p":"e","id":"e5","fill":"c","line":"d","y":5.2,"x0":1,"x1":1},{"p":"e","id":"e5","fill":"c","line":"d","y":5,"x0":1,"x1":1.22},{"p":"e","id":"e5","fill":"c","line":"d","y":4.7,"x0":1,"x1":1},
{"p":"e","id":"e6","fill":"b","line":"c","y":6.3,"x0":2.1,"x1":2.3},{"p":"e","id":"e6","fill":"b","line":"c","y":6.2,"x0":1.9,"x1":2.45},{"p":"e","id":"e6","fill":"b","line":"c","y":6,"x0":1.8,"x1":2.53},{"p":"e","id":"e6","fill":"b","line":"c","y":5.85,"x0":1.92,"x1":2.42},{"p":"e","id":"e6","fill":"b","line":"c","y":5.75,"x0":2.1,"x1":2.28},
{"p":"e","id":"e7","fill":"f","line":"f","y":4.25,"x0":1.88,"x1":2},{"p":"e","id":"e7","fill":"f","line":"f","y":4.15,"x0":1.76,"x1":2.08},{"p":"e","id":"e7","fill":"f","line":"f","y":4,"x0":1.72,"x1":2.13},{"p":"e","id":"e7","fill":"f","line":"f","y":3.9,"x0":1.8,"x1":2.08},{"p":"e","id":"e7","fill":"f","line":"f","y":3.85,"x0":1.92,"x1":2},
{"p":"e","id":"e8","fill":"e","line":"e","y":1.25,"x0":2.7,"x1":2.78},{"p":"e","id":"e8","fill":"e","line":"e","y":1,"x0":2.6,"x1":2.88},
{"p":"f","id":"f1","fill":"a","line":"a","y":7.1,"x0":5,"x1":5},{"p":"f","id":"f1","fill":"a","line":"a","y":6.95,"x0":4.87,"x1":5},{"p":"f","id":"f1","fill":"a","line":"a","y":6.75,"x0":5,"x1":5},
{"p":"f","id":"f2","fill":"a","line":"a","y":5.25,"x0":5,"x1":5},{"p":"f","id":"f2","fill":"a","line":"a","y":4.95,"x0":4.76,"x1":5},{"p":"f","id":"f2","fill":"a","line":"a","y":4.6,"x0":5,"x1":5},
{"p":"f","id":"f3","fill":"i","line":"j","y":4,"x0":1,"x1":1},{"p":"f","id":"f3","fill":"i","line":"j","y":3.75,"x0":1,"x1":1.25},{"p":"f","id":"f3","fill":"i","line":"j","y":3.5,"x0":1,"x1":1.45},{"p":"f","id":"f3","fill":"i","line":"j","y":3.28,"x0":1,"x1":1.8},
{"p":"f","id":"f4","fill":"h","line":"i","y":5.4,"x0":1,"x1":1},{"p":"f","id":"f4","fill":"h","line":"i","y":5,"x0":1,"x1":1.47},{"p":"f","id":"f4","fill":"h","line":"i","y":4.45,"x0":1,"x1":1},
{"p":"f","id":"f5","fill":"g","line":"h","y":5.2,"x0":1,"x1":1},{"p":"f","id":"f5","fill":"g","line":"h","y":5,"x0":1,"x1":1.3},{"p":"f","id":"f5","fill":"g","line":"h","y":4.7,"x0":1,"x1":1},
{"p":"f","id":"f6","fill":"f","line":"g","y":5.1,"x0":1,"x1":1},{"p":"f","id":"f6","fill":"f","line":"g","y":5,"x0":1,"x1":1.15},{"p":"f","id":"f6","fill":"f","line":"g","y":4.8,"x0":1,"x1":1},
{"p":"f","id":"f11","fill":"h","line":"i","y":3.9,"x0":1,"x1":1},{"p":"f","id":"f11","fill":"h","line":"i","y":3.5,"x0":1,"x1":1.2},{"p":"f","id":"f11","fill":"h","line":"i","y":3,"x0":1,"x1":1.68},{"p":"f","id":"f11","fill":"h","line":"i","y":2.7,"x0":1,"x1":1.65},{"p":"f","id":"f11","fill":"h","line":"i","y":2.25,"x0":1,"x1":1.53},{"p":"f","id":"f11","fill":"h","line":"i","y":1.75,"x0":1,"x1":1.62},{"p":"f","id":"f11","fill":"h","line":"i","y":1,"x0":1,"x1":1.72},
{"p":"f","id":"f12","fill":"g","line":"h","y":3.6,"x0":1,"x1":1},{"p":"f","id":"f12","fill":"g","line":"h","y":3,"x0":1,"x1":1.32},{"p":"f","id":"f12","fill":"g","line":"h","y":2.5,"x0":1,"x1":1.4},{"p":"f","id":"f12","fill":"g","line":"h","y":2,"x0":1,"x1":1.42},{"p":"f","id":"f12","fill":"g","line":"h","y":1.5,"x0":1,"x1":1.42},{"p":"f","id":"f12","fill":"g","line":"h","y":1,"x0":1,"x1":1.55},
{"p":"f","id":"f13","fill":"f","line":"g","y":3.05,"x0":1,"x1":1},{"p":"f","id":"f13","fill":"f","line":"g","y":3,"x0":1,"x1":1.08},{"p":"f","id":"f13","fill":"f","line":"g","y":2.5,"x0":1,"x1":1.09},{"p":"f","id":"f13","fill":"f","line":"g","y":2,"x0":1,"x1":1.15},{"p":"f","id":"f13","fill":"f","line":"g","y":1.5,"x0":1,"x1":1.25},{"p":"f","id":"f13","fill":"f","line":"g","y":1,"x0":1,"x1":1.36},
{"p":"f","id":"f7","fill":"k","line":"k","y":4.5,"x0":1.8,"x1":2},{"p":"f","id":"f7","fill":"k","line":"k","y":4.3,"x0":1.58,"x1":2.17},{"p":"f","id":"f7","fill":"k","line":"k","y":4,"x0":1.42,"x1":2.25},{"p":"f","id":"f7","fill":"k","line":"k","y":3.75,"x0":1.6,"x1":2.15},{"p":"f","id":"f7","fill":"k","line":"k","y":3.5,"x0":1.9,"x1":2},
{"p":"f","id":"f8","fill":"l","line":"l","y":4.3,"x0":1.85,"x1":2},{"p":"f","id":"f8","fill":"l","line":"l","y":4.15,"x0":1.68,"x1":2.1},{"p":"f","id":"f8","fill":"l","line":"l","y":4,"x0":1.62,"x1":2.17},{"p":"f","id":"f8","fill":"l","line":"l","y":3.85,"x0":1.68,"x1":2.1},{"p":"f","id":"f8","fill":"l","line":"l","y":3.72,"x0":1.88,"x1":2},
{"p":"f","id":"f9","fill":"n","line":"k","y":4.1,"x0":1.88,"x1":2},{"p":"f","id":"f9","fill":"n","line":"k","y":4.05,"x0":1.85,"x1":2.05},{"p":"f","id":"f9","fill":"n","line":"k","y":4,"x0":1.83,"x1":2.07},{"p":"f","id":"f9","fill":"n","line":"k","y":3.95,"x0":1.85,"x1":2.05},{"p":"f","id":"f9","fill":"n","line":"k","y":3.9,"x0":1.9,"x1":2},
{"p":"f","id":"f10","fill":"j","line":"j","y":2.4,"x0":1.95,"x1":2.1},{"p":"f","id":"f10","fill":"j","line":"j","y":2,"x0":1.72,"x1":2.32},{"p":"f","id":"f10","fill":"j","line":"j","y":1.5,"x0":1.9,"x1":2.12},{"p":"f","id":"f10","fill":"j","line":"j","y":1,"x0":1.88,"x1":2.12},
{"p":"g","id":"g3","fill":"g","line":"h","y":4.6,"x0":1,"x1":1},{"p":"g","id":"g3","fill":"g","line":"h","y":4.25,"x0":1,"x1":1.3},{"p":"g","id":"g3","fill":"g","line":"h","y":4,"x0":1,"x1":1.48},{"p":"g","id":"g3","fill":"g","line":"h","y":3.5,"x0":1,"x1":1.58},{"p":"g","id":"g3","fill":"g","line":"h","y":3.4,"x0":1,"x1":1.9},
{"p":"g","id":"g2","fill":"f","line":"g","y":4.1,"x0":1,"x1":1},{"p":"g","id":"g2","fill":"f","line":"g","y":4,"x0":1,"x1":1.17},{"p":"g","id":"g2","fill":"f","line":"g","y":3.5,"x0":1,"x1":1.55},{"p":"g","id":"g2","fill":"f","line":"g","y":3,"x0":1,"x1":1.87},{"p":"g","id":"g2","fill":"f","line":"g","y":2.85,"x0":1,"x1":1.98},
{"p":"g","id":"g1","fill":"e","line":"f","y":3.3,"x0":1,"x1":1},{"p":"g","id":"g1","fill":"e","line":"f","y":3,"x0":1,"x1":1.33},{"p":"g","id":"g1","fill":"e","line":"f","y":2.5,"x0":1,"x1":1.72},{"p":"g","id":"g1","fill":"e","line":"f","y":2,"x0":1,"x1":1.96},
{"p":"g","id":"g4","fill":"i","line":"i","y":4.25,"x0":1.9,"x1":2.08},{"p":"g","id":"g4","fill":"i","line":"i","y":4.15,"x0":1.77,"x1":2.16},{"p":"g","id":"g4","fill":"i","line":"i","y":4,"x0":1.72,"x1":2.21},{"p":"g","id":"g4","fill":"i","line":"i","y":3.85,"x0":1.8,"x1":2.15},{"p":"g","id":"g4","fill":"i","line":"i","y":3.75,"x0":1.95,"x1":2.05},
{"p":"g","id":"g5","fill":"e","line":"e","y":3.18,"x0":3.8,"x1":3.95},{"p":"g","id":"g5","fill":"e","line":"e","y":3.1,"x0":3.63,"x1":4.05},{"p":"g","id":"g5","fill":"e","line":"e","y":3,"x0":3.57,"x1":4.1},{"p":"g","id":"g5","fill":"e","line":"e","y":2.9,"x0":3.63,"x1":4.05},{"p":"g","id":"g5","fill":"e","line":"e","y":2.82,"x0":3.8,"x1":3.95},
{"p":"h","id":"h1","fill":"b","line":"b","y":7.25,"x0":2.97,"x1":2.97},{"p":"h","id":"h1","fill":"b","line":"b","y":7.18,"x0":2.8,"x1":3.15},{"p":"h","id":"h1","fill":"b","line":"b","y":7,"x0":2.68,"x1":3.27},{"p":"h","id":"h1","fill":"b","line":"b","y":6.75,"x0":2.75,"x1":3.2},{"p":"h","id":"h1","fill":"b","line":"b","y":6.65,"x0":2.97,"x1":2.97},
{"p":"h","id":"h2","fill":"b","line":"b","y":5.32,"x0":3.9,"x1":3.9},{"p":"h","id":"h2","fill":"b","line":"b","y":5.25,"x0":3.7,"x1":4.06},{"p":"h","id":"h2","fill":"b","line":"b","y":5,"x0":3.55,"x1":4.23},{"p":"h","id":"h2","fill":"b","line":"b","y":4.75,"x0":3.53,"x1":4.15},{"p":"h","id":"h2","fill":"b","line":"b","y":4.5,"x0":3.6,"x1":3.95},{"p":"h","id":"h2","fill":"b","line":"b","y":4.25,"x0":3.72,"x1":3.97},{"p":"h","id":"h2","fill":"b","line":"b","y":4.1,"x0":3.9,"x1":3.9},
{"p":"a","lab":"0.05","lx":2.36,"ly":10.94,"ang":20,"bg":"B"},{"p":"a","lab":"0.2","lx":2.13,"ly":8.53,"ang":20,"bg":"C"},{"p":"a","lab":"0.2","lx":2.34,"ly":4.2,"ang":90,"bg":"C"},{"p":"a","lab":"0.05","lx":3.86,"ly":6.6,"ang":70,"bg":"A"},
{"p":"b","lab":"0.05","lx":2.35,"ly":11.15,"ang":20,"bg":"A"},{"p":"b","lab":"0.2","lx":2.27,"ly":9.55,"ang":15,"bg":"C"},{"p":"b","lab":"0.2","lx":3.07,"ly":5.3,"ang":25,"bg":"C"},{"p":"b","lab":"0.2","lx":2.71,"ly":2.8,"ang":-70,"bg":"C"},
{"p":"c","lab":"0.05","lx":2.37,"ly":9,"ang":15,"bg":"A"},{"p":"c","lab":"0.2","lx":2.15,"ly":7.95,"ang":20,"bg":"C"},{"p":"c","lab":"0.4","lx":2,"ly":6.07,"ang":80,"bg":"G"},
{"p":"d","lab":"0.05","lx":2.38,"ly":9.7,"ang":12,"bg":"A"},{"p":"d","lab":"0.2","lx":2.18,"ly":7.05,"ang":25,"bg":"C"},{"p":"d","lab":"0.4","lx":2.1,"ly":4.4,"ang":30,"bg":"G"},{"p":"d","lab":"0.6","lx":2.08,"ly":2.85,"ang":-90,"bg":"K"},{"p":"d","lab":"0.2","lx":3.46,"ly":2.68,"ang":-20,"bg":"C"},
{"p":"e","lab":"0.05","lx":2.88,"ly":11.4,"ang":12,"bg":"A"},{"p":"e","lab":"0.2","lx":2.32,"ly":8.53,"ang":12,"bg":"C"},{"p":"e","lab":"0.2","lx":2.35,"ly":5.36,"ang":0,"bg":"C"},{"p":"e","lab":"0.05","lx":3.9,"ly":7.7,"ang":90,"bg":"A"},
{"p":"f","lab":"0.05","lx":2.39,"ly":9.1,"ang":12,"bg":"A"},{"p":"f","lab":"0.2","lx":2.16,"ly":6.8,"ang":30,"bg":"C"},{"p":"f","lab":"0.05","lx":3.09,"ly":5.8,"ang":40,"bg":"B"},{"p":"f","lab":"0.4","lx":2.07,"ly":5.85,"ang":40,"bg":"G"},{"p":"f","lab":"0.2","lx":3.36,"ly":2.55,"ang":85,"bg":"C"},
{"p":"g","lab":"0.05","lx":2.31,"ly":8.67,"ang":20,"bg":"B"},{"p":"g","lab":"0.2","lx":2.15,"ly":7.55,"ang":25,"bg":"C"},{"p":"g","lab":"0.05","lx":3.76,"ly":4.3,"ang":45,"bg":"B"},{"p":"g","lab":"0.2","lx":3.64,"ly":2.5,"ang":-3,"bg":"C"},
{"p":"h","lab":"0.05","lx":2.4,"ly":7.7,"ang":-5,"bg":"A"},{"p":"h","lab":"0.2","lx":2.25,"ly":3.6,"ang":25,"bg":"C"},{"p":"h","lab":"0.4","lx":2.1,"ly":2.8,"ang":40,"bg":"G"},
{"p":"a","txt":"S1","tx":3.98,"ty":12},{"p":"b","txt":"S2","tx":4,"ty":11.93},{"p":"c","txt":"S3","tx":4.01,"ty":12},{"p":"d","txt":"2017","tx":4.51,"ty":12.6},{"p":"d","txt":"CAW","tx":3.84,"ty":11.9},{"p":"e","txt":"S1","tx":3.93,"ty":11.8},{"p":"f","txt":"S2","tx":4,"ty":11.8},{"p":"g","txt":"S3","tx":4.04,"ty":11.98},{"p":"h","txt":"2018","tx":4.45,"ty":12.47},{"p":"h","txt":"CAW","tx":3.88,"ty":11.8}
]},
"spacing":60,
"hconcat":[
{"width":154,"height":2300,"view":{"stroke":null},"data":{"values":[{"t":"Fruiting branch","fx":0.435,"fy":0.568}]},"mark":{"type":"text","angle":270,"font":"Liberation Sans","fontSize":83,"color":"#111"},"encoding":{"text":{"field":"t"},"x":{"field":"fx","type":"quantitative","scale":{"domain":[0,1]},"axis":null},"y":{"field":"fy","type":"quantitative","scale":{"domain":[0,1]},"axis":null}}},
{"spacing":27,"vconcat":[
{"spacing":1,"hconcat":[
{"width":15,"height":10,"view":{"stroke":null},"data":{"values":[{"t":1}]},"mark":{"type":"point","opacity":0},"encoding":{}},
{"data":{"name":"m"},"transform":[{"filter":"datum.p<'e'"},{"fold":["a","b","c","d","e","e2","e3","f","f2","g","h","i","i2","j","j2","k","l","m","n"],"as":["key","value"]},{"calculate":"substring(datum.key,0,1)","as":"lev"}],"facet":{"column":{"field":"p","type":"nominal","header":null}},"spacing":62,"bounds":"flush","spec":{"width":635,"height":1021,"encoding":{"y":{"field":"y","type":"quantitative","title":null,"scale":{"domain":[1,13],"nice":false,"zero":false},"axis":{"values":[1,2,3,4,5,6,7,8,9,10,11,12,13],"tickSize":28,"labelPadding":5}},"x":{"field":"value","type":"quantitative","stack":null,"title":null,"scale":{"domain":[1,5],"nice":false,"zero":false},"axis":{"values":[1,2,3,4,5],"tickSize":5}},"detail":{"field":"key"}},"layer":[
{"transform":[{"filter":"datum.lev=='a'"}],"mark":{"type":"area","fill":"#dcdcdc"}},{"transform":[{"filter":"datum.lev=='b'"}],"mark":{"type":"area","fill":"#cbcbcb"}},{"transform":[{"filter":"datum.lev=='c'"}],"mark":{"type":"area","fill":"#b9b9b9"}},{"transform":[{"filter":"datum.lev=='d'"}],"mark":{"type":"area","fill":"#a8a8a8"}},{"transform":[{"filter":"datum.lev=='e'"}],"mark":{"type":"area","fill":"#979797"}},{"transform":[{"filter":"datum.lev=='f'"}],"mark":{"type":"area","fill":"#868686"}},{"transform":[{"filter":"datum.lev=='g'"}],"mark":{"type":"area","fill":"#757575"}},{"transform":[{"filter":"datum.lev=='h'"}],"mark":{"type":"area","fill":"#646464"}},{"transform":[{"filter":"datum.lev=='i'"}],"mark":{"type":"area","fill":"#535353"}},{"transform":[{"filter":"datum.lev=='j'"}],"mark":{"type":"area","fill":"#424242"}},{"transform":[{"filter":"datum.lev=='k'"}],"mark":{"type":"area","fill":"#313131"}},{"transform":[{"filter":"datum.lev=='l'"}],"mark":{"type":"area","fill":"#202020"}},{"transform":[{"filter":"datum.lev=='m'"}],"mark":{"type":"area","fill":"#0f0f0f"}},{"transform":[{"filter":"datum.lev=='n'"}],"mark":{"type":"area","fill":"#000000"}},
{"transform":[{"filter":"datum.key=='a'&&datum.id"}],"mark":{"type":"area"},"encoding":{"x":{"field":"x0","type":"quantitative","title":null},"x2":{"field":"x1"},"detail":{"field":"id"},"color":{"field":"fill","scale":{"domain":["a","b","c","d","e","f","g","h","i","j","k","l","m","n"],"range":["#dcdcdc","#cbcbcb","#b9b9b9","#a8a8a8","#979797","#868686","#757575","#646464","#535353","#424242","#313131","#202020","#0f0f0f","#000000"]},"legend":null}}},
{"transform":[{"filter":"datum.key=='a'&&datum.id"}],"mark":{"type":"line"},"encoding":{"x":{"field":"x0","type":"quantitative","title":null},"detail":{"field":"id"},"order":{"field":"y"},"stroke":{"field":"line","scale":{"domain":["a","b","c","d","e","f","g","h","i","j","k","l","m","n","A","B","C","G","K"],"range":["#c9c9c9","#4a4a4a","#bcbcbc","#3f3f3f","#cfcfcf","#3f3f3f","#c9c9c9","#222222","#bdbdbd","#111111","#aaaaaa","#0a0a0a","#aaaaaa","#000000","#dcdcdc","#cbcbcb","#b9b9b9","#757575","#202020"]},"legend":null}}},
{"transform":[{"filter":"datum.key=='a'&&datum.id"}],"mark":{"type":"line"},"encoding":{"x":{"field":"x1","type":"quantitative","title":null},"detail":{"field":"id"},"order":{"field":"y"},"stroke":{"field":"line","legend":null}}},
{"mark":{"type":"line"},"encoding":{"order":{"field":"y"},"stroke":{"field":"lev","legend":null}}},
{"transform":[{"filter":"datum.key=='a'&&!datum.id&&floor(datum.y)==datum.y&&datum.p!='a'&&datum.p!='e'"}],"mark":{"type":"rule","color":"#555","strokeWidth":2.5},"encoding":{"x":{"datum":1},"x2":{"datum":1.16}}},
{"transform":[{"filter":"datum.key=='a'&&!datum.id&&floor(datum.y)==datum.y"}],"mark":{"type":"rule","color":"#555","strokeWidth":2.5},"encoding":{"x":{"datum":4.84},"x2":{"datum":5}}},
{"data":{"values":[{"t":2},{"t":3},{"t":4}]},"mark":{"type":"rule","color":"#555","strokeWidth":3},"encoding":{"x":{"field":"t","type":"quantitative","title":null},"y":{"datum":13},"y2":{"datum":12.88},"detail":{"value":"x"}}},
{"transform":[{"filter":"datum.key=='a'&&datum.lab"}],"mark":{"type":"text","font":"DejaVu Sans","fontSize":33,"strokeWidth":9},"encoding":{"x":{"field":"lx","type":"quantitative","title":null},"y":{"field":"ly","type":"quantitative","title":null},"text":{"field":"lab"},"angle":{"field":"ang","type":"quantitative","scale":null},"stroke":{"field":"bg","legend":null}}},
{"transform":[{"filter":"datum.key=='a'&&datum.lab"}],"mark":{"type":"text","font":"DejaVu Sans","fontSize":33,"color":"#1a1a1a"},"encoding":{"x":{"field":"lx","type":"quantitative","title":null},"y":{"field":"ly","type":"quantitative","title":null},"text":{"field":"lab"},"angle":{"field":"ang","type":"quantitative","scale":null}}},
{"transform":[{"filter":"datum.key=='a'&&datum.txt"}],"mark":{"type":"text","font":"Liberation Serif","fontSize":50,"color":"#111"},"encoding":{"x":{"field":"tx","type":"quantitative","title":null},"y":{"field":"ty","type":"quantitative","title":null},"text":{"field":"txt"}}}
]}}
]},
{"spacing":1,"hconcat":[
{"width":1,"height":10,"view":{"stroke":null},"data":{"values":[{"t":1}]},"mark":{"type":"point","opacity":0},"encoding":{}},
{"data":{"name":"m"},"transform":[{"filter":"datum.p>='e'"},{"fold":["a","b","c","d","e","e2","e3","f","f2","g","h","i","i2","j","j2","k","l","m","n"],"as":["key","value"]},{"calculate":"substring(datum.key,0,1)","as":"lev"}],"facet":{"column":{"field":"p","type":"nominal","header":null}},"spacing":64,"bounds":"flush","spec":{"width":635,"height":1021,"encoding":{"y":{"field":"y","type":"quantitative","title":null,"scale":{"domain":[1,13],"nice":false,"zero":false},"axis":{"values":[1,2,3,4,5,6,7,8,9,10,11,12,13],"tickSize":28,"labelPadding":5}},"x":{"field":"value","type":"quantitative","stack":null,"title":null,"scale":{"domain":[1,5],"nice":false,"zero":false},"axis":{"values":[1,2,3,4,5],"tickSize":5}},"detail":{"field":"key"}},"layer":[
{"transform":[{"filter":"datum.lev=='a'"}],"mark":{"type":"area","fill":"#dcdcdc"}},{"transform":[{"filter":"datum.lev=='b'"}],"mark":{"type":"area","fill":"#cbcbcb"}},{"transform":[{"filter":"datum.lev=='c'"}],"mark":{"type":"area","fill":"#b9b9b9"}},{"transform":[{"filter":"datum.lev=='d'"}],"mark":{"type":"area","fill":"#a8a8a8"}},{"transform":[{"filter":"datum.lev=='e'"}],"mark":{"type":"area","fill":"#979797"}},{"transform":[{"filter":"datum.lev=='f'"}],"mark":{"type":"area","fill":"#868686"}},{"transform":[{"filter":"datum.lev=='g'"}],"mark":{"type":"area","fill":"#757575"}},{"transform":[{"filter":"datum.lev=='h'"}],"mark":{"type":"area","fill":"#646464"}},{"transform":[{"filter":"datum.lev=='i'"}],"mark":{"type":"area","fill":"#535353"}},{"transform":[{"filter":"datum.lev=='j'"}],"mark":{"type":"area","fill":"#424242"}},{"transform":[{"filter":"datum.lev=='k'"}],"mark":{"type":"area","fill":"#313131"}},{"transform":[{"filter":"datum.lev=='l'"}],"mark":{"type":"area","fill":"#202020"}},{"transform":[{"filter":"datum.lev=='m'"}],"mark":{"type":"area","fill":"#0f0f0f"}},{"transform":[{"filter":"datum.lev=='n'"}],"mark":{"type":"area","fill":"#000000"}},
{"transform":[{"filter":"datum.key=='a'&&datum.id"}],"mark":{"type":"area"},"encoding":{"x":{"field":"x0","type":"quantitative","title":null},"x2":{"field":"x1"},"detail":{"field":"id"},"color":{"field":"fill","scale":{"domain":["a","b","c","d","e","f","g","h","i","j","k","l","m","n"],"range":["#dcdcdc","#cbcbcb","#b9b9b9","#a8a8a8","#979797","#868686","#757575","#646464","#535353","#424242","#313131","#202020","#0f0f0f","#000000"]},"legend":null}}},
{"transform":[{"filter":"datum.key=='a'&&datum.id"}],"mark":{"type":"line"},"encoding":{"x":{"field":"x0","type":"quantitative","title":null},"detail":{"field":"id"},"order":{"field":"y"},"stroke":{"field":"line","scale":{"domain":["a","b","c","d","e","f","g","h","i","j","k","l","m","n","A","B","C","G","K"],"range":["#c9c9c9","#4a4a4a","#bcbcbc","#3f3f3f","#cfcfcf","#3f3f3f","#c9c9c9","#222222","#bdbdbd","#111111","#aaaaaa","#0a0a0a","#aaaaaa","#000000","#dcdcdc","#cbcbcb","#b9b9b9","#757575","#202020"]},"legend":null}}},
{"transform":[{"filter":"datum.key=='a'&&datum.id"}],"mark":{"type":"line"},"encoding":{"x":{"field":"x1","type":"quantitative","title":null},"detail":{"field":"id"},"order":{"field":"y"},"stroke":{"field":"line","legend":null}}},
{"mark":{"type":"line"},"encoding":{"order":{"field":"y"},"stroke":{"field":"lev","legend":null}}},
{"transform":[{"filter":"datum.key=='a'&&!datum.id&&floor(datum.y)==datum.y&&datum.p!='a'&&datum.p!='e'"}],"mark":{"type":"rule","color":"#555","strokeWidth":2.5},"encoding":{"x":{"datum":1},"x2":{"datum":1.16}}},
{"transform":[{"filter":"datum.key=='a'&&!datum.id&&floor(datum.y)==datum.y"}],"mark":{"type":"rule","color":"#555","strokeWidth":2.5},"encoding":{"x":{"datum":4.84},"x2":{"datum":5}}},
{"data":{"values":[{"t":2},{"t":3},{"t":4}]},"mark":{"type":"rule","color":"#555","strokeWidth":3},"encoding":{"x":{"field":"t","type":"quantitative","title":null},"y":{"datum":13},"y2":{"datum":12.88},"detail":{"value":"x"}}},
{"transform":[{"filter":"datum.key=='a'&&datum.lab"}],"mark":{"type":"text","font":"DejaVu Sans","fontSize":33,"strokeWidth":9},"encoding":{"x":{"field":"lx","type":"quantitative","title":null},"y":{"field":"ly","type":"quantitative","title":null},"text":{"field":"lab"},"angle":{"field":"ang","type":"quantitative","scale":null},"stroke":{"field":"bg","legend":null}}},
{"transform":[{"filter":"datum.key=='a'&&datum.lab"}],"mark":{"type":"text","font":"DejaVu Sans","fontSize":33,"color":"#1a1a1a"},"encoding":{"x":{"field":"lx","type":"quantitative","title":null},"y":{"field":"ly","type":"quantitative","title":null},"text":{"field":"lab"},"angle":{"field":"ang","type":"quantitative","scale":null}}},
{"transform":[{"filter":"datum.key=='a'&&datum.txt"}],"mark":{"type":"text","font":"Liberation Serif","fontSize":50,"color":"#111"},"encoding":{"x":{"field":"tx","type":"quantitative","title":null},"y":{"field":"ty","type":"quantitative","title":null},"text":{"field":"txt"}}}
]}}
]},
{"width":2851,"height":118,"view":{"stroke":null},"data":{"values":[{"t":"Position","fx":0.474,"fy":0.45}]},"mark":{"type":"text","font":"Liberation Sans","fontSize":84,"color":"#111"},"encoding":{"text":{"field":"t"},"x":{"field":"fx","type":"quantitative","scale":{"domain":[0,1]},"axis":null},"y":{"field":"fy","type":"quantitative","scale":{"domain":[0,1]},"axis":null}}}
]},
{"spacing":1,"vconcat":[
{"width":54,"height":509,"view":{"stroke":null},"data":{"values":[{"t":1}]},"mark":{"type":"point","opacity":0},"encoding":{}},
{"width":54,"height":1301,"view":{"stroke":"#888","strokeWidth":5},"data":{"values":[{"lo":0.05,"hi":0.1,"fill":"a"},{"lo":0.1,"hi":0.15,"fill":"b"},{"lo":0.15,"hi":0.2,"fill":"c"},{"lo":0.2,"hi":0.25,"fill":"d"},{"lo":0.25,"hi":0.3,"fill":"e"},{"lo":0.3,"hi":0.35,"fill":"f"},{"lo":0.35,"hi":0.4,"fill":"g"},{"lo":0.4,"hi":0.45,"fill":"h"},{"lo":0.45,"hi":0.5,"fill":"i"},{"lo":0.5,"hi":0.55,"fill":"j"},{"lo":0.55,"hi":0.6,"fill":"k"},{"lo":0.6,"hi":0.65,"fill":"l"},{"lo":0.65,"hi":0.7,"fill":"m"},{"lo":0.7,"hi":0.75,"fill":"n"},{"lo":0.75,"hi":0.8,"fill":"n"},{"lo":0.8,"hi":0.85,"fill":"n"},{"lo":0.85,"hi":0.9,"fill":"n"},{"lo":0.9,"hi":0.95,"fill":"n"},{"lo":0.95,"hi":1,"fill":"n"},{"lo":1,"hi":1.05,"fill":"n"}]},"layer":[{"mark":{"type":"rect","stroke":"#777","strokeWidth":1.5},"encoding":{"y":{"field":"lo","type":"quantitative","title":null,"scale":{"domain":[0.05,1.05],"nice":false,"zero":false},"axis":{"orient":"right","values":[0.05,0.1,0.15,0.2,0.25,0.3,0.35,0.4,0.45,0.5,0.55,0.6,0.65,0.7,0.75,0.8,0.85,0.9,0.95,1],"format":".2~f","ticks":false,"domain":false,"labelFont":"Liberation Sans","labelFontSize":32,"labelPadding":3}},"y2":{"field":"hi"},"color":{"field":"fill","scale":{"domain":["a","b","c","d","e","f","g","h","i","j","k","l","m","n"],"range":["#dcdcdc","#cbcbcb","#b9b9b9","#a8a8a8","#979797","#868686","#757575","#646464","#535353","#424242","#313131","#202020","#0f0f0f","#000000"]},"legend":null}}},{"transform":[{"filter":"datum.lo==1||datum.lo==0.8"}],"mark":{"type":"rule","color":"#00008b","strokeWidth":2},"encoding":{"y":{"field":"lo","type":"quantitative"}}}]}
]}
]}
